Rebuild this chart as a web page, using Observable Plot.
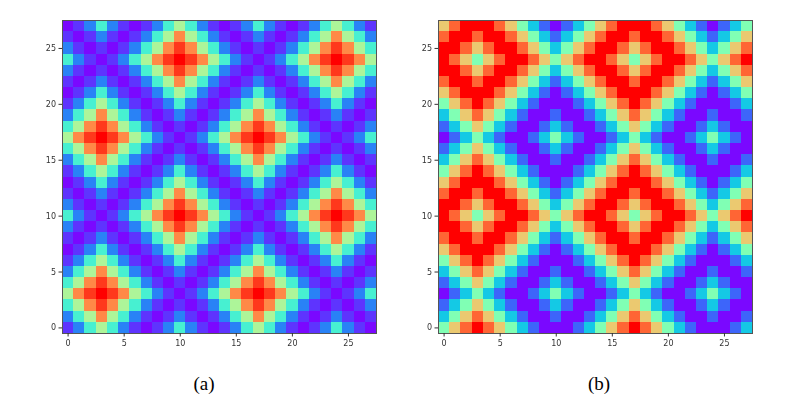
<!DOCTYPE html>
<html>
<head>
<meta charset="utf-8">
<script src="https://cdn.jsdelivr.net/npm/d3@7"></script>
<script src="https://cdn.jsdelivr.net/npm/@observablehq/plot@0.6"></script>
<style>
  html, body { margin: 0; padding: 0; background: #fff; }
  #page { position: relative; width: 801px; height: 404px; overflow: hidden; background: #fff; }
  .panel { position: absolute; top: 0; filter: blur(0.35px); }
  .caption { position: absolute; top: 373px; width: 60px; text-align: center;
             font: 19px "Liberation Serif", serif; color: #000; }
</style>
</head>
<body>
<div id="page"></div>
<script>
// Colour bands (intensity on the 0..1 colour scale).
const bandsA = [0.01, 0.065, 0.17, 0.39, 0.59, 0.82, 0.93, 1];
const bandsB = [0.01, 0.13, 0.29, 0.5, 0.71, 0.87, 1];

// Panel (a): one string per row, top row (y = 27) first, one band digit per cell.
const rowsA = [
  "0123210123432101232101234321",
  "1012101234543210121012345432",
  "2101012345654321010123456543",
  "3210123456765432101234567654",
  "2101012345654321010123456543",
  "1012101234543210121012345432",
  "0123210123432101232101234321",
  "1234321012321012343210123210",
  "2345432101210123454321012101",
  "3456543210101234565432101012",
  "4567654321012345676543210123",
  "3456543210101234565432101012",
  "2345432101210123454321012101",
  "1234321012321012343210123210",
  "0123210123432101232101234321",
  "1012101234543210121012345432",
  "2101012345654321010123456543",
  "3210123456765432101234567654",
  "2101012345654321010123456543",
  "1012101234543210121012345432",
  "0123210123432101232101234321",
  "1234321012321012343210123210",
  "2345432101210123454321012101",
  "3456543210101234565432101012",
  "4567654321012345676543210123",
  "3456543210101234565432101012",
  "2345432101210123454321012101",
  "1234321012321012343210123210"
];

// Panel (b): same layout.
const rowsB = [
  "4566654321012345666543210123",
  "5665665432123456656654321234",
  "6654566543234566545665432345",
  "6543456654345665434566543456",
  "6654566543234566545665432345",
  "5665665432123456656654321234",
  "4566654321012345666543210123",
  "3456543210001234565432100012",
  "2345432100100123454321001001",
  "1234321001210012343210012100",
  "0123210012321001232100123210",
  "1234321001210012343210012100",
  "2345432100100123454321001001",
  "3456543210001234565432100012",
  "4566654321012345666543210123",
  "5665665432123456656654321234",
  "6654566543234566545665432345",
  "6543456654345665434566543456",
  "6654566543234566545665432345",
  "5665665432123456656654321234",
  "4566654321012345666543210123",
  "3456543210001234565432100012",
  "2345432100100123454321001001",
  "1234321001210012343210012100",
  "0123210012321001232100123210",
  "1234321001210012343210012100",
  "2345432100100123454321001001",
  "3456543210001234565432100012"
];

const tickValues = [0, 5, 10, 15, 20, 25];
const captions = ["(a)", "(b)"];
const gridIndex = d3.range(28);

// Matplotlib "rainbow" colour map.
const rainbow = t => {
  const c = v => Math.round(255 * Math.min(1, Math.max(0, v)));
  return `rgb(${c(Math.abs(2 * t - 0.5))},${c(Math.sin(Math.PI * t))},${c(Math.cos(Math.PI * t / 2))})`;
};

function table(rows, bands) {
  const out = [];
  rows.forEach((row, r) => {
    for (let x = 0; x < 28; x++) out.push({x, y: 27 - r, v: bands[+row[x]]});
  });
  return out;
}

function panel(rows, bands, left, marginLeft, innerW) {
  const axisStyle = {tickSize: 3.5, stroke: "#333", fill: "#333", fontSize: 8, tickPadding: 3, label: null};
  const chart = Plot.plot({
    width: marginLeft + innerW + 10,
    height: 373,
    marginLeft,
    marginRight: 10,
    marginTop: 20,
    marginBottom: 40,
    style: {fontFamily: "DejaVu Sans", background: "transparent"},
    x: {type: "band", domain: gridIndex, padding: 0, round: false},
    y: {type: "band", domain: [...gridIndex].reverse(), padding: 0, round: false},
    color: {type: "linear", domain: [0, 1], interpolate: () => rainbow},
    marks: [
      Plot.cell(table(rows, bands), {x: "x", y: "y", fill: "v", shapeRendering: "crispEdges"}),
      Plot.frame({stroke: "#555", strokeWidth: 1}),
      Plot.axisX(tickValues, axisStyle),
      Plot.axisY(tickValues, axisStyle)
    ]
  });
  chart.classList.add("panel");
  chart.style.left = left + "px";
  document.getElementById("page").appendChild(chart);
}

panel(rowsA, bandsA, 0, 62, 314);
panel(rowsB, bandsB, 386, 52, 314);

captions.forEach((text, i) => {
  const d = document.createElement("div");
  d.className = "caption";
  d.textContent = text;
  d.style.left = (i === 0 ? 174 : 569) + "px";
  document.getElementById("page").appendChild(d);
});
</script>
</body>
</html>
